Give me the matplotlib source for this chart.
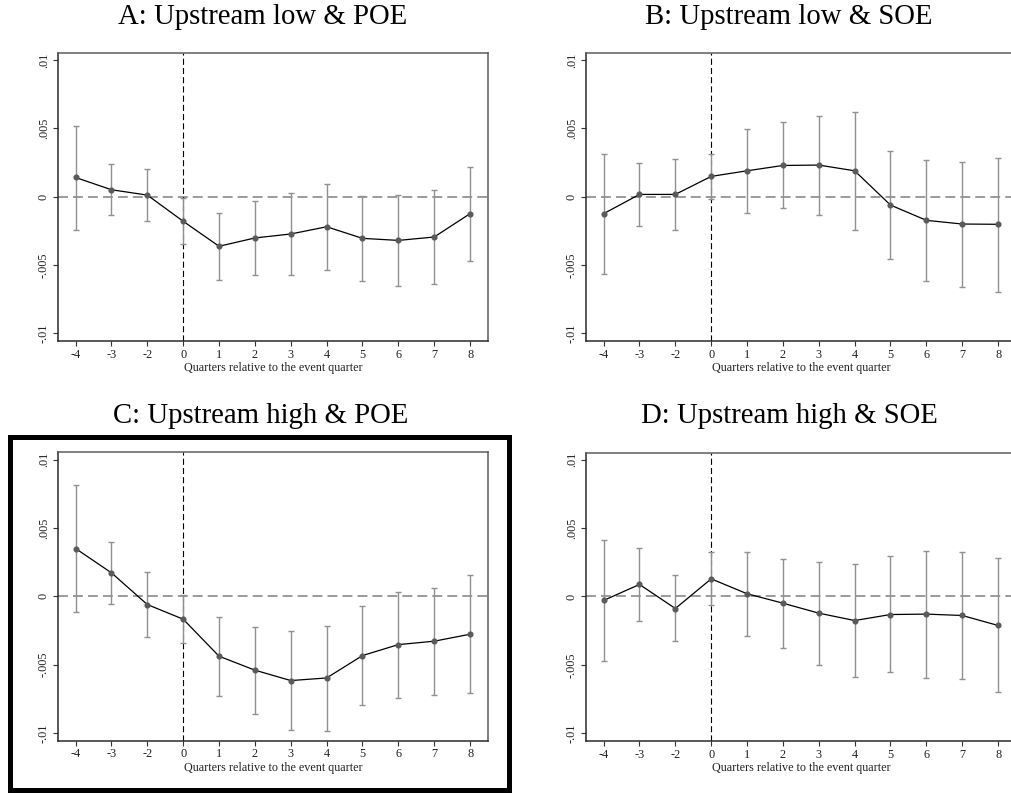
import matplotlib
matplotlib.use("Agg")
import matplotlib.pyplot as plt
from matplotlib.patches import Rectangle

plt.rcParams["font.family"] = ["Liberation Serif", "DejaVu Serif"]

# Event-time axis (quarter -1 is the omitted reference period)
quarters = ["-4", "-3", "-2", "0", "1", "2", "3", "4", "5", "6", "7", "8"]
event_pos = quarters.index("0")

titles = ["A: Upstream low & POE", "B: Upstream low & SOE",
          "C: Upstream high & POE", "D: Upstream high & SOE"]

# Point estimates and 95% confidence bounds for each subsample
coef_a = [0.00141, 0.00051, 0.00012, -0.00180, -0.00363, -0.00302,
          -0.00273, -0.00220, -0.00305, -0.00320, -0.00295, -0.00124]
lo_a = [-0.00244, -0.00137, -0.00176, -0.00344, -0.00610, -0.00571,
        -0.00576, -0.00534, -0.00617, -0.00654, -0.00639, -0.00468]
hi_a = [0.00520, 0.00241, 0.00200, -0.00012, -0.00117, -0.00034,
        0.00024, 0.00093, 0.00007, 0.00012, 0.00046, 0.00217]

coef_b = [-0.00124, 0.00017, 0.00017, 0.00149, 0.00190, 0.00229,
          0.00232, 0.00190, -0.00061, -0.00173, -0.00200, -0.00202]
lo_b = [-0.00568, -0.00215, -0.00246, -0.00020, -0.00117, -0.00085,
        -0.00134, -0.00241, -0.00459, -0.00615, -0.00659, -0.00695]
hi_b = [0.00315, 0.00249, 0.00280, 0.00312, 0.00498, 0.00544,
        0.00595, 0.00620, 0.00332, 0.00271, 0.00256, 0.00285]

coef_c = [0.00349, 0.00171, -0.00061, -0.00168, -0.00439, -0.00541,
          -0.00617, -0.00598, -0.00434, -0.00354, -0.00329, -0.00278]
lo_c = [-0.00115, -0.00056, -0.00295, -0.00344, -0.00729, -0.00859,
        -0.00978, -0.00983, -0.00798, -0.00744, -0.00722, -0.00707]
hi_c = [0.00812, 0.00395, 0.00178, 0.00007, -0.00151, -0.00224,
        -0.00256, -0.00215, -0.00073, 0.00032, 0.00063, 0.00154]

coef_d = [-0.00029, 0.00088, -0.00088, 0.00129, 0.00020, -0.00049,
          -0.00122, -0.00176, -0.00132, -0.00129, -0.00139, -0.00212]
lo_d = [-0.00471, -0.00178, -0.00327, -0.00061, -0.00290, -0.00376,
        -0.00500, -0.00590, -0.00554, -0.00595, -0.00607, -0.00702]
hi_d = [0.00412, 0.00354, 0.00156, 0.00324, 0.00327, 0.00276,
        0.00251, 0.00239, 0.00293, 0.00332, 0.00327, 0.00280]

yticks = [-0.01, -0.005, 0, 0.005, 0.01]
ytick_labels = ["-.01", "-.005", "0", ".005", ".01"]

W, H = 1012, 793
fig = plt.figure(figsize=(W / 100, H / 100), dpi=100)

# axes boxes in pixels: left, top, right, bottom
boxes = [(57.7, 53, 488, 341), (585.7, 53, 1016, 341),
         (57.7, 452.3, 488, 740.7), (585.7, 452.5, 1016, 741)]
title_pos = [(263, 24), (789, 24), (261, 423.3), (789, 423.3)]
panels = [(coef_a, lo_a, hi_a), (coef_b, lo_b, hi_b),
          (coef_c, lo_c, hi_c), (coef_d, lo_d, hi_d)]

x = list(range(len(quarters)))

for (l, t, r, b), (tx, ty), title, (coef, lo, hi) in zip(boxes, title_pos, titles, panels):
    ax = fig.add_axes([l / W, 1 - b / H, (r - l) / W, (b - t) / H])
    ax.axhline(0, color="#808080", lw=1.1, ls=(0, (6.5, 3.3)), zorder=1)
    ax.axvline(event_pos, color="black", lw=0.8, ls=(0, (5.5, 2.8)), zorder=1)
    yerr = [[c - v for c, v in zip(coef, lo)], [v - c for c, v in zip(coef, hi)]]
    ax.errorbar(x, coef, yerr=yerr, fmt="none", ecolor="#909090",
                elinewidth=1.0, capsize=2.0, capthick=1.0, zorder=2)
    ax.plot(x, coef, color="black", lw=0.9, zorder=3)
    ax.plot(x, coef, ls="none", marker="o", ms=3.4, color="#5a5a5a",
            mec="#5a5a5a", zorder=4)

    ax.set_xlim(-0.5, len(quarters) - 0.5)
    ax.set_ylim(-0.01057, 0.01053)
    ax.set_xticks(x)
    ax.set_xticklabels(quarters)
    ax.set_yticks(yticks)
    ax.set_yticklabels(ytick_labels, rotation=90, va="center")
    ax.tick_params(axis="both", length=3.6, width=0.8, color="#333333",
                   labelsize=8.8, labelcolor="#222222")
    ax.tick_params(axis="x", pad=2)
    ax.tick_params(axis="y", pad=2)
    ax.set_xlabel("Quarters relative to the event quarter", fontsize=8.7,
                  color="#222222", labelpad=1)
    for side in ("left", "bottom"):
        ax.spines[side].set_color("#2a2a2a")
        ax.spines[side].set_linewidth(1.1)
    for side in ("top", "right"):
        ax.spines[side].set_color("#5c5c5c")
        ax.spines[side].set_linewidth(1.1)

    fig.text(tx / W, 1 - ty / H, title, fontsize=20.7, ha="center",
             va="baseline", color="black")

# heavy frame around panel C
fig.patches.append(Rectangle((9.8 / W, 1 - 789.5 / H), (509 - 9.8) / W,
                             (789.5 - 436.5) / H, transform=fig.transFigure,
                             fill=False, edgecolor="black", lw=3.6, zorder=10))

fig.savefig("out.png", dpi=100)
